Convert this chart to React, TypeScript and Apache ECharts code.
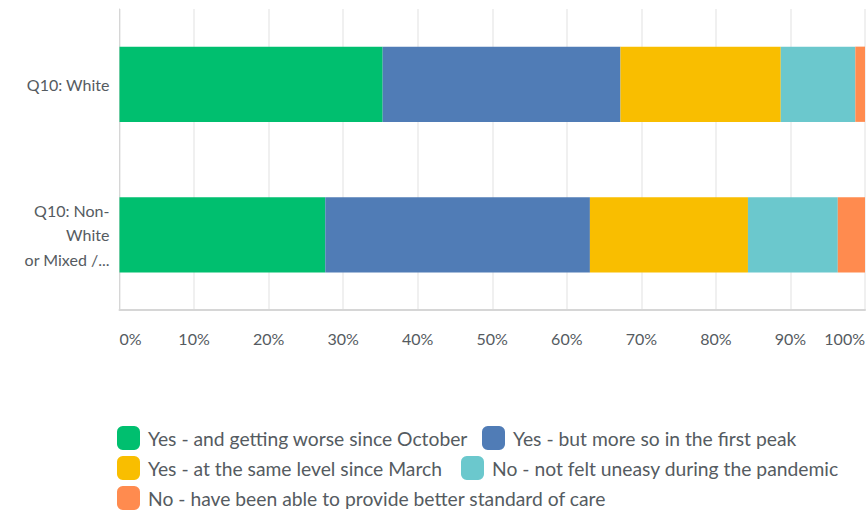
import React, { useEffect, useRef } from "react";
import * as echarts from "echarts";

const categories = ["Q10: White", "Q10: Non-\nWhite\nor Mixed /..."];
const seriesNames = [
  "Yes - and getting worse since October",
  "Yes - but more so in the first peak",
  "Yes - at the same level since March",
  "No - not felt uneasy during the pandemic",
  "No - have been able to provide better standard of care",
];
const colors = ["#00BF6F", "#507CB6", "#F9BE00", "#6BC8CD", "#FF8B4F"];
const worseSinceOctober = [35.3, 27.6];
const moreInFirstPeak = [31.9, 35.5];
const sameLevelSinceMarch = [21.5, 21.2];
const notUneasy = [10.0, 12.05];
const betterCare = [1.3, 3.65];
const seriesValues = [worseSinceOctober, moreInFirstPeak, sameLevelSinceMarch, notUneasy, betterCare];
const tickLabels = ["0%", "10%", "20%", "30%", "40%", "50%", "60%", "70%", "80%", "90%", "100%"];

const FONT = "Lato, 'Noto Sans', sans-serif";
const TEXT = "#555b61";

const legendPos = [
  { left: 117, top: 426 },
  { left: 482, top: 426 },
  { left: 117, top: 456 },
  { left: 461, top: 456 },
  { left: 117, top: 486 },
];

export default function App() {
  const ref = useRef<HTMLDivElement>(null);
  useEffect(() => {
    if (!ref.current) return;
    const chart = echarts.init(ref.current, null, { renderer: "svg" });
    chart.setOption({
      animation: false,
      grid: { left: 119.5, right: 0, top: 9, bottom: 204, containLabel: false },
      xAxis: {
        type: "value",
        min: 0,
        max: 100,
        interval: 10,
        axisLine: { show: true, lineStyle: { color: "#d6d6d6", width: 2 } },
        axisTick: { show: false },
        splitLine: { show: true, lineStyle: { color: "#ebebeb", width: 1.5 } },
        axisLabel: {
          margin: 20,
          fontFamily: FONT,
          fontSize: 16,
          color: TEXT,
          alignMinLabel: "left",
          alignMaxLabel: "right",
          formatter: (v: number) => tickLabels[Math.round(v / 10)],
        },
      },
      yAxis: {
        type: "category",
        data: categories,
        inverse: true,
        axisLine: { show: true, lineStyle: { color: "#d6d6d6", width: 1 } },
        axisTick: { show: false },
        axisLabel: {
          margin: 10,
          fontFamily: FONT,
          fontSize: 16,
          color: TEXT,
          lineHeight: 24.5,
          align: "right",
        },
      },
      legend: seriesNames.map((name, i) => ({
        data: [name],
        left: legendPos[i].left,
        top: legendPos[i].top,
        orient: "horizontal",
        itemWidth: 23,
        itemHeight: 24,
        icon: "roundRect",
        padding: 0,
        selectedMode: false,
        textStyle: { fontFamily: FONT, fontSize: 19.3, color: TEXT, padding: [0, 0, 0, 3] },
      })),
      series: seriesNames.map((name, i) => ({
        name,
        type: "bar",
        stack: "total",
        barWidth: "50%",
        data: seriesValues[i],
        itemStyle: { color: colors[i] },
        emphasis: { disabled: true },
      })),
    });
    return () => chart.dispose();
  }, []);
  return <div ref={ref} style={{ width: 868, height: 514, position: "absolute", left: 0, top: 0 }} />;
}
